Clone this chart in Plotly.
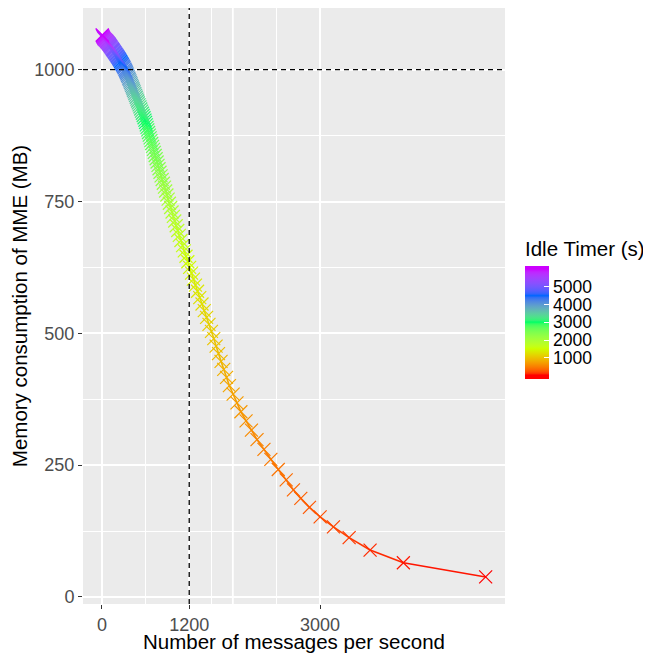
import plotly.graph_objects as go

# ---------------- data ----------------
idle_timer = [40, 80, 120, 160, 200, 240, 280, 320, 360, 400,
              440, 480, 520, 560, 600, 640, 680, 720, 760, 800,
              840, 880, 920, 960, 1000, 1040, 1080, 1120, 1160, 1200,
              1240, 1280, 1320, 1360, 1400, 1440, 1480, 1520, 1560, 1600,
              1640, 1680, 1720, 1760, 1800, 1840, 1880, 1920, 1960, 2000,
              2040, 2080, 2120, 2160, 2200, 2240, 2280, 2320, 2360, 2400,
              2440, 2480, 2520, 2560, 2600, 2640, 2680, 2720, 2760, 2800,
              2840, 2880, 2920, 2960, 3000, 3040, 3080, 3120, 3160, 3200,
              3240, 3280, 3320, 3360, 3400, 3440, 3480, 3520, 3560, 3600,
              3640, 3680, 3720, 3760, 3800, 3840, 3880, 3920, 3960, 4000,
              4040, 4080, 4120, 4160, 4200, 4240, 4280, 4320, 4360, 4400,
              4440, 4480, 4520, 4560, 4600, 4640, 4680, 4720, 4760, 4800,
              4840, 4880, 4920, 4960, 5000, 5040, 5080, 5120, 5160, 5200,
              5240, 5280, 5320, 5360, 5400, 5440, 5480, 5520, 5560, 5600,
              5640, 5680, 5720, 5760, 5800, 5840, 5880, 5920, 5960, 6000]

messages_per_s = [5278, 4146, 3688, 3400, 3184, 3001, 2854, 2735, 2634, 2534,
                  2425, 2323, 2228, 2133, 2056, 1982, 1911, 1857, 1804, 1753,
                  1714, 1675, 1638, 1603, 1570, 1538, 1506, 1472, 1439, 1407,
                  1376, 1345, 1315, 1286, 1258, 1232, 1206, 1181, 1156, 1132,
                  1109, 1086, 1064, 1042, 1021, 1001, 982, 964, 945, 927,
                  910, 893, 876, 860, 844, 828, 813, 798, 785, 771,
                  758, 745, 732, 720, 708, 696, 684, 673, 662, 651,
                  641, 630, 620, 610, 600, 591, 579, 567, 556, 544,
                  533, 522, 511, 501, 491, 481, 471, 462, 452, 443,
                  434, 426, 417, 408, 400, 392, 384, 375, 368, 360,
                  352, 345, 337, 330, 323, 315, 306, 298, 289, 281,
                  272, 264, 256, 248, 240, 232, 223, 215, 207, 199,
                  191, 183, 176, 168, 160, 153, 146, 140, 132, 126,
                  120, 114, 107, 101, 95, 88, 81, 75, 68, 62,
                  54, 46, 40, 32, 26, 20, 15, 10, 6, 3]

memory_mb = [38, 65, 89, 112.5, 133, 152, 170, 187, 203, 222,
             241.8, 261.1, 279.9, 298.4, 316.4, 334.1, 351.3, 368.1, 384.6, 400.7,
             416.4, 431.8, 446.9, 461.6, 475.9, 490.0, 503.7, 517.1, 530.2, 543.0,
             555.6, 567.8, 579.8, 591.5, 602.9, 614.1, 625.1, 635.7, 646.2, 656.4,
             666.4, 676.1, 685.7, 695.0, 704.1, 713.0, 721.7, 730.2, 738.6, 746.7,
             754.6, 762.4, 770.0, 777.4, 784.7, 791.8, 798.7, 805.5, 812.1, 818.6,
             824.9, 831.1, 837.2, 843.1, 848.9, 854.5, 860.0, 865.4, 870.7, 875.9,
             880.9, 885.8, 890.7, 895.4, 900.0, 904.5, 908.9, 913.2, 917.4, 921.5,
             925.5, 929.4, 933.3, 937.0, 940.7, 944.3, 947.8, 951.2, 954.5, 957.8,
             961.0, 964.1, 967.2, 970.2, 973.1, 976.0, 978.8, 981.5, 984.1, 986.8,
             989.3, 991.8, 994.2, 996.6, 998.9, 1001.2, 1003.4, 1005.6, 1007.7, 1009.8,
             1011.8, 1013.8, 1015.8, 1017.7, 1019.5, 1021.3, 1023.1, 1024.8, 1026.5, 1028.2,
             1029.8, 1031.4, 1032.9, 1034.4, 1035.9, 1037.3, 1038.7, 1040.1, 1041.5, 1042.8,
             1044.1, 1045.3, 1046.6, 1047.8, 1048.9, 1050.1, 1051.2, 1052.3, 1053.4, 1054.4,
             1055.5, 1056.5, 1057.4, 1058.4, 1059.6, 1061.0, 1062.3, 1063.6, 1064.8, 1066.0]

x_ticks = [0, 1200, 3000]
x_tick_labels = ["0", "1200", "3000"]
x_major_unlabelled = [1800]
x_minor = [600, 1500, 2400]
y_ticks = [0, 250, 500, 750, 1000]
y_minor = [125, 375, 625, 875]
cbar_ticks = [1000, 2000, 3000, 4000, 5000]
ref_x = 1200
ref_y = 1000

# ---------------- colour scale (Lab interpolation like ggplot) ----------------
anchors = ["#FF0000", "#CCFF00", "#00FF66", "#0066FF", "#CC00FF"]
CMIN, CMAX = -180, 6180
TMIN, TMAX = min(idle_timer), max(idle_timer)


def hex2rgb(h):
    h = h.lstrip("#")
    return [int(h[i:i + 2], 16) for i in (0, 2, 4)]


def rgb2lab(rgb):
    def lin(c):
        c = c / 255.0
        return c / 12.92 if c <= 0.04045 else ((c + 0.055) / 1.055) ** 2.4
    r, g, b = [lin(c) for c in rgb]
    X = (0.4124 * r + 0.3576 * g + 0.1805 * b) / 0.95047
    Y = (0.2126 * r + 0.7152 * g + 0.0722 * b) / 1.0
    Z = (0.0193 * r + 0.1192 * g + 0.9505 * b) / 1.08883

    def f(t):
        return t ** (1 / 3) if t > 0.008856 else 7.787 * t + 16 / 116
    fx, fy, fz = f(X), f(Y), f(Z)
    return [116 * fy - 16, 500 * (fx - fy), 200 * (fy - fz)]


def lab2rgb(lab):
    L, a, b = lab
    fy = (L + 16) / 116
    fx = fy + a / 500
    fz = fy - b / 200

    def finv(t):
        return t ** 3 if t ** 3 > 0.008856 else (t - 16 / 116) / 7.787
    X, Y, Z = finv(fx) * 0.95047, finv(fy), finv(fz) * 1.08883
    r = 3.2406 * X - 1.5372 * Y - 0.4986 * Z
    g = -0.9689 * X + 1.8758 * Y + 0.0415 * Z
    bb = 0.0557 * X - 0.2040 * Y + 1.0570 * Z

    def gam(c):
        c = max(0.0, min(1.0, c))
        return 12.92 * c if c <= 0.0031308 else 1.055 * c ** (1 / 2.4) - 0.055
    return [int(round(255 * gam(c))) for c in (r, g, bb)]


labs = [rgb2lab(hex2rgb(h)) for h in anchors]


def colour_at(f):
    f = max(0.0, min(1.0, f))
    seg = f * (len(labs) - 1)
    i = min(int(seg), len(labs) - 2)
    u = seg - i
    lab = [labs[i][j] + (labs[i + 1][j] - labs[i][j]) * u for j in range(3)]
    r, g, b = lab2rgb(lab)
    return "rgb(%d,%d,%d)" % (r, g, b)


def colour_for_value(v):
    return colour_at((v - TMIN) / (TMAX - TMIN))


p0 = (TMIN - CMIN) / (CMAX - CMIN)
p1 = (TMAX - CMIN) / (CMAX - CMIN)
NSTOP = 60
colorscale = [[0.0, colour_at(0.0)]]
for k in range(NSTOP + 1):
    frac = k / NSTOP
    colorscale.append([p0 + (p1 - p0) * frac, colour_at(frac)])
colorscale.append([1.0, colour_at(1.0)])

# ---------------- figure ----------------
fig = go.Figure()

# coloured line segments (gradient along the path)
for i in range(len(messages_per_s) - 1):
    tmid = 0.5 * (idle_timer[i] + idle_timer[i + 1])
    fig.add_trace(go.Scatter(
        x=[messages_per_s[i], messages_per_s[i + 1]],
        y=[memory_mb[i], memory_mb[i + 1]],
        mode="lines",
        line=dict(color=colour_for_value(tmid), width=1.6),
        hoverinfo="skip", showlegend=False))

fig.add_trace(go.Scatter(
    x=messages_per_s, y=memory_mb, mode="markers",
    marker=dict(
        symbol="x-thin-open", size=13,
        color=idle_timer, colorscale=colorscale, cmin=CMIN, cmax=CMAX,
        line=dict(width=1.2),
        colorbar=dict(
            title=dict(text="Idle Timer (s)", side="top",
                       font=dict(family="Liberation Sans, Arial", size=20.5, color="black")),
            thickness=24, len=141, lenmode="pixels",
            x=1.0474, xanchor="left", xpad=0,
            y=0.3778, yanchor="bottom", ypad=0,
            tickvals=cbar_ticks, ticks="inside", ticklen=5, tickcolor="white", tickwidth=1.2,
            tickfont=dict(family="Liberation Sans, Arial", size=17.5, color="black"),
            outlinewidth=0,
        ),
    ),
    showlegend=False, hoverinfo="skip"))

# unlabelled major grid line
for gx in x_major_unlabelled:
    fig.add_shape(type="line", xref="x", yref="paper", x0=gx, x1=gx, y0=0, y1=1,
                  line=dict(color="white", width=1.8), layer="below")

# reference dashed lines
fig.add_shape(type="line", xref="x", yref="paper", x0=ref_x, x1=ref_x, y0=0, y1=1,
              line=dict(color="black", width=1.3, dash="5px,4px"), layer="above")
fig.add_shape(type="line", xref="paper", yref="y", x0=0, x1=1, y0=ref_y, y1=ref_y,
              line=dict(color="black", width=1.3, dash="5px,4px"), layer="above")

axis_font = dict(family="Liberation Sans, Arial", size=18, color="#4D4D4D")
title_font = dict(family="Liberation Sans, Arial", size=20.5, color="black")

# the page body adds an 8px offset, so the figure is 8px smaller than the window
fig.update_layout(
    width=643, height=645, autosize=False,
    margin=dict(l=75, r=146, t=0, b=48.7, autoexpand=False),
    paper_bgcolor="white", plot_bgcolor="#EBEBEB",
    font=dict(family="Liberation Sans, Arial"),
    xaxis=dict(
        range=[-261, 5544], tickmode="array", tickvals=x_ticks, ticktext=x_tick_labels,
        ticks="outside", ticklen=4, tickwidth=1.2, tickcolor="#333333",
        tickfont=axis_font, showgrid=True, gridcolor="white", gridwidth=1.8,
        zeroline=False, showline=False, automargin=False,
        minor=dict(tickvals=x_minor, showgrid=True, gridcolor="white", gridwidth=0.9, ticks=""),
        title=dict(text="Number of messages per second", font=title_font, standoff=4),
    ),
    yaxis=dict(
        range=[-13.3, 1117], tickmode="array", tickvals=y_ticks,
        ticks="outside", ticklen=4, tickwidth=1.2, tickcolor="#333333",
        tickfont=axis_font, showgrid=True, gridcolor="white", gridwidth=1.8,
        zeroline=False, showline=False, automargin=False,
        minor=dict(tickvals=y_minor, showgrid=True, gridcolor="white", gridwidth=0.9, ticks=""),
        title=dict(text="Memory consumption of MME (MB)", font=title_font, standoff=6),
    ),
)

fig.write_html("out.html")
